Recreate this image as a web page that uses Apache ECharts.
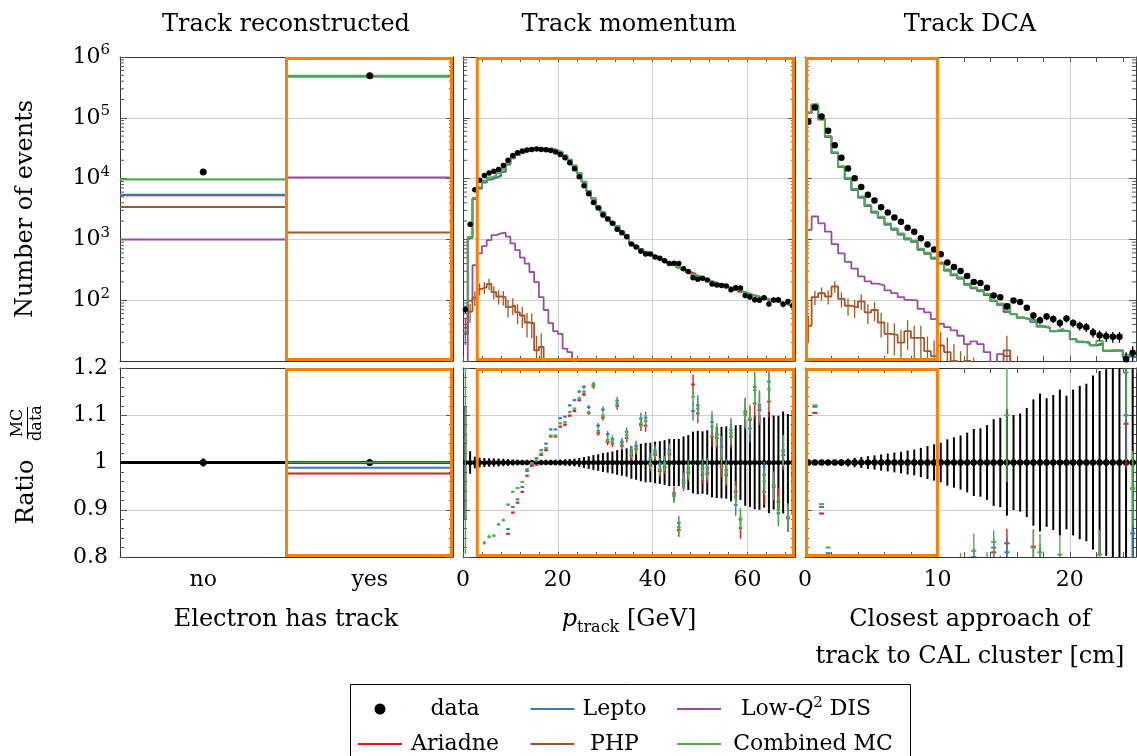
<!DOCTYPE html>
<html>
<head>
<meta charset="utf-8">
<title>Electron track selection</title>
<script src="https://cdn.jsdelivr.net/npm/echarts@6/dist/echarts.min.js"></script>
<style>
  html, body { margin: 0; padding: 0; background: #ffffff; }
  #chart { width: 1137px; height: 756px; }
</style>
</head>
<body>
<div id="chart"></div>
<script>
// ---------------------------------------------------------------------------
// Electron has track (one bin per category)
// ---------------------------------------------------------------------------
const trackCategories = ['no', 'yes'];
const trackData     = [12900, 490000];
const trackLepto    = [5400, 484600];
const trackAriadne  = [5300, 478700];
const trackLowQ2    = [1000, 10400];
const trackPHP      = [3400, 1300];
const trackCombined = [9700, 490000];

// ---------------------------------------------------------------------------
// Track momentum: 1 GeV bins, 0 - 70 GeV
// ---------------------------------------------------------------------------
const momentumBinWidth = 1;
const momentumData = [
  70, 1770, 6580, 9400, 11200, 12400, 13200, 14100, 16400, 20100,
  24000, 26600, 28400, 29500, 30200, 30600, 30200, 29900, 29100, 27300,
  25000, 22000, 18200, 14500, 10700, 7650, 5640, 4050, 3270, 2530,
  2170, 1840, 1470, 1290, 1110, 842, 748, 637, 574, 576,
  515, 491, 447, 402, 405, 400, 330, 296, 235, 222,
  230, 215, 185, 177, 175, 171, 149, 161, 159, 119,
  113, 102, 100, 110, 87, 101, 102, 86, 95, 81
];
// MC / data per bin
const momentumRatioCombined = [
  1.047, 0.62, 0.73, 0.77, 0.830, 0.843, 0.845, 0.869, 0.878, 0.911,
  0.938, 0.946, 0.959, 0.986, 0.999, 1.004, 1.019, 1.031, 1.057, 1.057,
  1.083, 1.085, 1.107, 1.114, 1.136, 1.150, 1.106, 1.163, 1.067, 1.099,
  1.048, 1.045, 1.125, 1.040, 1.058, 1.020, 1.030, 1.083, 1.088, 0.998,
  1.020, 0.986, 0.996, 1.021, 0.929, 0.863, 0.958, 0.982, 1.139, 1.114,
  0.982, 0.984, 1.076, 1.058, 1.009, 0.977, 1.062, 0.928, 0.879, 1.105,
  1.093, 1.153, 1.116, 0.960, 1.155, 0.950, 0.900, 1.026, 0.885, 0.988
];
const momentumRatioLepto = [
  0.40, 0.60, 0.71, 0.74, 0.78, 0.785, 0.79, 0.795, 0.798, 0.859,
  0.906, 0.922, 0.948, 0.982, 0.997, 1.009, 1.026, 1.040, 1.070, 1.070,
  1.094, 1.097, 1.121, 1.132, 1.150, 1.160, 1.117, 1.166, 1.078, 1.112,
  1.060, 1.050, 1.131, 1.044, 1.065, 1.025, 1.035, 1.093, 1.095, 1.008,
  1.025, 0.996, 1.000, 1.026, 0.930, 0.872, 0.963, 0.988, 1.109, 1.121,
  0.988, 0.989, 1.086, 1.060, 1.033, 0.984, 1.069, 0.910, 0.881, 1.100,
  1.072, 1.160, 1.121, 0.974, 1.171, 0.952, 0.893, 1.023, 0.882, 0.974
];
const momentumRatioAriadne = [
  0.40, 0.60, 0.70, 0.73, 0.77, 0.775, 0.78, 0.785, 0.788, 0.849,
  0.894, 0.915, 0.938, 0.972, 0.993, 0.995, 1.016, 1.026, 1.055, 1.055,
  1.076, 1.080, 1.099, 1.109, 1.132, 1.144, 1.105, 1.161, 1.062, 1.095,
  1.043, 1.040, 1.120, 1.035, 1.052, 1.015, 1.028, 1.079, 1.078, 0.994,
  1.016, 0.982, 0.990, 1.017, 0.935, 0.857, 0.956, 0.978, 1.165, 1.104,
  0.974, 0.977, 1.055, 1.052, 0.991, 0.973, 1.055, 0.938, 0.861, 1.108,
  1.090, 1.125, 1.111, 0.938, 1.129, 0.948, 0.917, 1.016, 0.882, 0.998
];
const momentumLowQ2 = [
  5, 98, 376, 587, 776, 975, 1180, 1257, 1290, 1107,
  859, 665, 503, 400, 291, 199, 112, 69, 42, 31,
  28, 16, 14, 10, 9, 0, 0, 0, 0, 0,
  0, 0, 0, 0, 0, 0, 0, 0, 0, 0,
  0, 0, 0, 0, 0, 0, 0, 0, 0, 0,
  0, 0, 0, 0, 0, 0, 0, 0, 0, 0,
  0, 0, 0, 0, 0, 0, 0, 0, 0, 0
];
const momentumPHP = [
  35, 65, 110, 154, 164, 186, 136, 115, 112, 77,
  82, 63, 56, 43, 42, 15, 17, 0, 0, 0,
  0, 0, 0, 0, 0, 0, 0, 0, 0, 0,
  0, 0, 0, 0, 0, 0, 0, 0, 0, 0,
  0, 0, 0, 0, 0, 0, 0, 0, 0, 0,
  0, 0, 0, 0, 0, 0, 0, 0, 0, 0,
  0, 0, 0, 0, 0, 0, 0, 0, 0, 0
];

// ---------------------------------------------------------------------------
// Track DCA: 0.5 cm bins, 0 - 25 cm
// ---------------------------------------------------------------------------
const dcaBinWidth = 0.5;
const dcaData = [
  85900, 148000, 105000, 61000, 35200, 22000, 14700, 10100, 7280, 5430,
  4380, 3390, 2770, 2290, 1960, 1560, 1340, 1040, 827, 682,
  571, 416, 352, 303, 250, 199, 191, 160, 119, 112,
  79, 99, 93, 75, 56, 47, 54, 49, 42, 50,
  42, 38, 36, 29.5, 26.6, 25.6, 25, 25, 10.7, 13.7
];
const dcaRatioCombined = [
  1.43, 1.121, 0.912, 0.820, 0.776, 0.73, 0.70, 0.67, 0.70, 0.68,
  0.66, 0.70, 0.66, 0.66, 0.64, 0.67, 0.71, 0.68, 0.73, 0.74,
  0.73, 0.77, 0.76, 0.78, 0.75, 0.813, 0.77, 0.79, 0.832, 0.78,
  1.10, 0.60, 0.56, 0.65, 0.82, 0.81, 0.66, 0.64, 0.805, 0.62,
  0.55, 0.55, 0.56, 0.62, 0.805, 0.58, 0.60, 0.60, 1.19, 0.945
];
const dcaRatioLepto = [
  1.41, 1.118, 0.906, 0.808, 0.755, 0.705, 0.675, 0.645, 0.675, 0.655,
  0.635, 0.675, 0.635, 0.635, 0.615, 0.645, 0.685, 0.655, 0.705, 0.715,
  0.705, 0.745, 0.735, 0.755, 0.725, 0.80, 0.745, 0.765, 0.82, 0.755,
  0.81, 0.59, 0.55, 0.64, 0.78, 0.79, 0.65, 0.63, 0.75, 0.61,
  0.54, 0.54, 0.55, 0.61, 0.70, 0.57, 0.59, 0.59, 1.10, 0.85
];
const dcaRatioAriadne = [
  1.40, 1.105, 0.892, 0.79, 0.745, 0.70, 0.67, 0.64, 0.67, 0.65,
  0.63, 0.67, 0.63, 0.63, 0.61, 0.64, 0.68, 0.65, 0.70, 0.71,
  0.70, 0.74, 0.73, 0.75, 0.72, 0.79, 0.74, 0.76, 0.81, 0.75,
  0.829, 0.60, 0.56, 0.65, 0.822, 0.78, 0.65, 0.64, 0.76, 0.62,
  0.55, 0.55, 0.56, 0.62, 0.74, 0.58, 0.60, 0.60, 1.082, 0.945
];
const dcaLowQ2 = [
  1430, 2380, 1840, 1340, 838, 587, 427, 331, 247, 204,
  187, 175, 145, 131, 112, 101, 99, 72, 63, 49,
  41, 36, 32, 26, 19, 21, 19, 14, 8, 13,
  12, 0, 0, 0, 0, 0, 0, 0, 0, 0,
  0, 0, 0, 0, 0, 0, 0, 0, 0, 0
];
const dcaPHP = [
  38, 112, 130, 115, 168, 105, 81, 76, 96, 63,
  69, 43, 28, 27, 20, 31, 24, 24, 14.5, 12,
  18, 14, 10, 7, 10, 5, 0, 0, 0, 0,
  15, 0, 0, 0, 0, 0, 0, 0, 0, 0,
  0, 0, 0, 0, 0, 0, 0, 0, 0, 0
];

// Event weights behind the MC statistical uncertainties
const MC_SIGNAL_WEIGHT = 0.09;
const PHP_WEIGHT = 8;

// ---------------------------------------------------------------------------
// Styling
// ---------------------------------------------------------------------------
const FONT = '"DejaVu Serif", "Liberation Serif", serif';
const LOWQ2 = 'Low-Q\u00b2 DIS';
const COL = {
  data: '#000000', lepto: '#377eb8', ariadne: '#e41a1c',
  lowq2: '#984ea3', php: '#a65628', combined: '#4daf4a', box: '#ff7f00'
};
const AXIS = '#333333';
const TICK = '#555555';
const GRIDLINE = '#cfcfcf';
const FLOOR = 0.01; // empty bins drop below the log axis

const grid = [
  { left: 120, top: 57,  width: 333, height: 304 },
  { left: 120, top: 368, width: 333, height: 189 },
  { left: 463, top: 57,  width: 332, height: 304 },
  { left: 463, top: 368, width: 332, height: 189 },
  { left: 805, top: 57,  width: 331, height: 304 },
  { left: 805, top: 368, width: 331, height: 189 }
];

const xAxis = [], yAxis = [];
const axisLine = { show: true, onZero: false, lineStyle: { color: AXIS, width: 1 } };
const labelFont = { fontFamily: FONT, fontSize: 22, color: '#000' };

function categoryX(g, withLabels) {
  const main = xAxis.push({
    type: 'category', gridIndex: g, data: trackCategories, position: 'bottom', boundaryGap: true,
    axisLine, axisTick: { show: false },
    axisLabel: Object.assign({ show: withLabels, margin: 12 }, labelFont),
    splitLine: { show: false }
  }) - 1;
  xAxis.push({
    type: 'category', gridIndex: g, data: trackCategories, position: 'top', boundaryGap: true,
    axisLine, axisTick: { show: false }, axisLabel: { show: false }, splitLine: { show: false }
  });
  return main;
}

function valueX(g, max, tickStep, labelStep, withLabels) {
  const tick = { show: true, inside: true, length: 5, lineStyle: { color: TICK, width: 1 } };
  const main = xAxis.push({
    type: 'value', gridIndex: g, min: 0, max, interval: tickStep, position: 'bottom',
    axisLine, axisTick: tick,
    axisLabel: Object.assign({
      show: withLabels, margin: 12, showMaxLabel: false,
      formatter: v => (Math.abs(v / labelStep - Math.round(v / labelStep)) < 1e-6 ? String(v) : '')
    }, labelFont),
    splitLine: { show: false }
  }) - 1;
  // top frame: ticks mirrored, grid lines at the labelled values
  xAxis.push({
    type: 'value', gridIndex: g, min: 0, max, interval: labelStep, position: 'top',
    axisLine, axisTick: tick,
    minorTick: { show: true, splitNumber: Math.round(labelStep / tickStep), length: 5, lineStyle: { color: TICK, width: 1 } },
    axisLabel: { show: false },
    splitLine: { show: true, lineStyle: { color: GRIDLINE, width: 1 } }
  });
  return main;
}

function logY(g, withLabels) {
  const tick = { show: true, inside: true, length: 7, lineStyle: { color: TICK, width: 1 } };
  const main = yAxis.push({
    type: 'log', logBase: 10, gridIndex: g, min: 10, max: 1e6, splitNumber: 5, position: 'left',
    axisLine, axisTick: tick,
    axisLabel: {
      show: withLabels, margin: 10, showMinLabel: false,
      formatter: v => '{b|10}{s|' + Math.round(Math.log10(v)) + '}',
      rich: {
        b: { fontFamily: FONT, fontSize: 22, color: '#000', lineHeight: 28 },
        s: { fontFamily: FONT, fontSize: 15, color: '#000', verticalAlign: 'top', lineHeight: 15 }
      }
    },
    splitLine: { show: true, lineStyle: { color: GRIDLINE, width: 1 } }
  }) - 1;
  yAxis.push({
    type: 'log', logBase: 10, gridIndex: g, min: 10, max: 1e6, splitNumber: 5, position: 'right',
    axisLine, axisTick: tick, axisLabel: { show: false }, splitLine: { show: false }
  });
  return main;
}

function ratioY(g, withLabels) {
  const tick = { show: true, inside: true, length: 7, lineStyle: { color: TICK, width: 1 } };
  const minor = { show: true, splitNumber: 5, length: 4, lineStyle: { color: TICK, width: 1 } };
  const main = yAxis.push({
    type: 'value', gridIndex: g, min: 0.8, max: 1.2, interval: 0.1, position: 'left',
    axisLine, axisTick: tick, minorTick: minor,
    axisLabel: Object.assign({ show: withLabels, margin: 12, formatter: v => String(Math.round(v * 10) / 10) }, labelFont),
    splitLine: { show: true, lineStyle: { color: GRIDLINE, width: 1 } }
  }) - 1;
  yAxis.push({
    type: 'value', gridIndex: g, min: 0.8, max: 1.2, interval: 0.1, position: 'right',
    axisLine, axisTick: tick, minorTick: minor, axisLabel: { show: false }, splitLine: { show: false }
  });
  return main;
}

const ax = [
  { x: categoryX(0, false), y: logY(0, true) },
  { x: categoryX(1, true), y: ratioY(1, true) },
  { x: valueX(2, 70, 4, 20, false), y: logY(2, false) },
  { x: valueX(3, 70, 4, 20, true), y: ratioY(3, false) },
  { x: valueX(4, 25, 2, 10, false), y: logY(4, false) },
  { x: valueX(5, 25, 2, 10, true), y: ratioY(5, false) }
];

// ---------------------------------------------------------------------------
// Series builders
// ---------------------------------------------------------------------------
function seg(p, q, color, lw) {
  return { type: 'line', shape: { x1: p[0], y1: p[1], x2: q[0], y2: q[1] }, style: { stroke: color, lineWidth: lw } };
}

// step histogram drawn from the bin contents
function stepLine(name, color, g, values, width) {
  const pts = values.map((v, i) => [i * width, Math.max(v, FLOOR)]);
  pts.push([values.length * width, Math.max(values[values.length - 1], FLOOR)]);
  return {
    type: 'line', name, xAxisIndex: ax[g].x, yAxisIndex: ax[g].y, data: pts,
    step: 'end', symbol: 'none', showSymbol: false, lineStyle: { color, width: 1.8 }, itemStyle: { color },
    silent: true, clip: true, z: 2
  };
}

function dataScatter(g, points, size) {
  return {
    type: 'scatter', name: 'data', xAxisIndex: ax[g].x, yAxisIndex: ax[g].y, data: points,
    symbol: 'circle', symbolSize: size, itemStyle: { color: COL.data, opacity: 1 }, silent: true, z: 6
  };
}

// vertical uncertainty bars; items are [x, value, halfWidth]
function verticalErrors(name, color, g, items, lw, z) {
  return {
    type: 'custom', name, xAxisIndex: ax[g].x, yAxisIndex: ax[g].y, clip: true, silent: true, z,
    data: items,
    renderItem: (params, api) => {
      const x = api.value(0), v = api.value(1), e = api.value(2);
      if (!(v > 0) || !(e > 0)) return null;
      return seg(api.coord([x, v + e]), api.coord([x, Math.max(v - e, FLOOR)]), color, lw);
    }
  };
}

// short minor ticks at 2..9 x 10^k on both frame sides of a log panel
const logMinorTickValues = [];
for (let k = 1; k < 6; k++) for (let m = 2; m < 10; m++) logMinorTickValues.push(m * Math.pow(10, k));
function logMinorTicks(g) {
  return {
    type: 'custom', xAxisIndex: ax[g].x, yAxisIndex: ax[g].y, clip: false, silent: true, z: 1,
    data: logMinorTickValues.map(v => [0, v]),
    renderItem: (params, api) => {
      const cs = params.coordSys;
      const y = api.coord([api.value(0), api.value(1)])[1];
      return { type: 'group', children: [
        seg([cs.x, y], [cs.x + 4, y], TICK, 1),
        seg([cs.x + cs.width - 4, y], [cs.x + cs.width, y], TICK, 1)
      ] };
    }
  };
}

// data / data = 1 with the Poisson uncertainty of each count
function ratioData(g, counts, width, radius) {
  return {
    type: 'custom', name: 'data', xAxisIndex: ax[g].x, yAxisIndex: ax[g].y, clip: true, silent: true, z: 2,
    data: counts.map((n, i) => [i * width, (i + 1) * width, 1, n > 0 ? 1 / Math.sqrt(n) : 0]),
    renderItem: (params, api) => {
      const lo = api.value(0), hi = api.value(1), r = api.value(2), e = api.value(3), mid = (lo + hi) / 2;
      const c = api.coord([mid, r]);
      return { type: 'group', children: [
        seg(api.coord([lo, r]), api.coord([hi, r]), COL.data, 2.5),
        seg(api.coord([mid, r + e]), api.coord([mid, r - e]), COL.data, 2),
        { type: 'circle', shape: { cx: c[0], cy: c[1], r: radius }, style: { fill: COL.data } }
      ] };
    }
  };
}

// MC / data markers: short dash across the bin and its uncertainty
function ratioMC(name, color, g, mc, counts, width, relErr) {
  return {
    type: 'custom', name, xAxisIndex: ax[g].x, yAxisIndex: ax[g].y, clip: true, silent: true, z: 3,
    data: mc.map((m, i) => {
      const r = m / counts[i];
      return [i * width, (i + 1) * width, r, r * relErr(m, i)];
    }),
    renderItem: (params, api) => {
      const lo = api.value(0), hi = api.value(1), r = api.value(2), e = api.value(3);
      const inset = (hi - lo) * 0.12, mid = (lo + hi) / 2;
      return { type: 'group', children: [
        seg(api.coord([lo + inset, r]), api.coord([hi - inset, r]), color, 2),
        seg(api.coord([mid, r + e]), api.coord([mid, r - e]), color, 1.4)
      ] };
    }
  };
}

function histogramPanel(gTop, gRatio, width, counts, rLepto, rAriadne, rCombined, lowQ2, php, dotSize, dotRadius) {
  const lepto = counts.map((d, i) => d * rLepto[i]);
  const ariadne = counts.map((d, i) => d * rAriadne[i]);
  const combined = counts.map((d, i) => d * rCombined[i]);
  const centre = i => (i + 0.5) * width;
  const signalErr = m => Math.sqrt(MC_SIGNAL_WEIGHT * m) / m;
  const combinedErr = (m, i) =>
    Math.sqrt(MC_SIGNAL_WEIGHT * Math.max(m - php[i] - lowQ2[i], 0) + PHP_WEIGHT * php[i]) / m;
  return [
    stepLine(LOWQ2, COL.lowq2, gTop, lowQ2, width),
    stepLine('PHP', COL.php, gTop, php, width),
    stepLine('Ariadne', COL.ariadne, gTop, ariadne, width),
    stepLine('Lepto', COL.lepto, gTop, lepto, width),
    stepLine('Combined MC', COL.combined, gTop, combined, width),
    dataScatter(gTop, counts.map((v, i) => [centre(i), v]), dotSize),
    verticalErrors('PHP', COL.php, gTop, php.map((v, i) => [centre(i), v, Math.sqrt(PHP_WEIGHT * v)]), 1.3, 3),
    verticalErrors('data', COL.data, gTop, counts.map((v, i) => [centre(i), v, Math.sqrt(v)]), 1.3, 5),
    logMinorTicks(gTop),
    ratioData(gRatio, counts, width, dotRadius),
    ratioMC('Ariadne', COL.ariadne, gRatio, ariadne, counts, width, signalErr),
    ratioMC('Lepto', COL.lepto, gRatio, lepto, counts, width, signalErr),
    ratioMC('Combined MC', COL.combined, gRatio, combined, counts, width, combinedErr)
  ];
}

// ---- category panel helpers ----
function bandHalf(api, yRef) {
  return Math.abs(api.coord([1, yRef])[0] - api.coord([0, yRef])[0]) / 2;
}
function categoryLevels(name, color, g, values, lw, z) {
  return {
    type: 'custom', name, xAxisIndex: ax[g].x, yAxisIndex: ax[g].y, clip: true, silent: true, z,
    data: values.map((v, i) => [i, v]),
    renderItem: (params, api) => {
      const i = api.value(0), v = api.value(1);
      const c = api.coord([i, v]), h = bandHalf(api, v);
      return seg([c[0] - h, c[1]], [c[0] + h, c[1]], color, lw);
    }
  };
}
function categoryRatioData(g, counts) {
  return {
    type: 'custom', name: 'data', xAxisIndex: ax[g].x, yAxisIndex: ax[g].y, clip: true, silent: true, z: 2,
    data: counts.map((n, i) => [i, 1, 1 / Math.sqrt(n)]),
    renderItem: (params, api) => {
      const i = api.value(0), r = api.value(1), e = api.value(2);
      const c = api.coord([i, r]), h = bandHalf(api, r);
      return { type: 'group', children: [
        seg([c[0] - h, c[1]], [c[0] + h, c[1]], COL.data, 3),
        seg(api.coord([i, r + e]), api.coord([i, r - e]), COL.data, 2),
        { type: 'circle', shape: { cx: c[0], cy: c[1], r: 3.5 }, style: { fill: COL.data } }
      ] };
    }
  };
}

// orange frame around the selected range; items are [from, to, yRef, isBand]
function selectionBox(g, from, to, yRef, isBand) {
  return {
    type: 'custom', xAxisIndex: ax[g].x, yAxisIndex: ax[g].y, clip: false, silent: true, z: 20,
    data: [[from, to, yRef, isBand ? 1 : 0]],
    renderItem: (params, api) => {
      const cs = params.coordSys, y = api.value(2);
      let a = api.coord([api.value(0), y])[0], b = api.coord([api.value(1), y])[0];
      if (api.value(3)) { const h = bandHalf(api, y); a -= h; b += h; }
      a = Math.max(a, cs.x + 1.5);
      b = Math.min(b, cs.x + cs.width - 1.5);
      return { type: 'rect', shape: { x: a, y: cs.y + 1.5, width: b - a, height: cs.height - 3 },
        style: { fill: 'none', stroke: COL.box, lineWidth: 3 } };
    }
  };
}

// ---------------------------------------------------------------------------
// Assemble series
// ---------------------------------------------------------------------------
const series = [].concat(
  histogramPanel(2, 3, momentumBinWidth, momentumData, momentumRatioLepto, momentumRatioAriadne,
    momentumRatioCombined, momentumLowQ2, momentumPHP, 5.5, 2.6),
  histogramPanel(4, 5, dcaBinWidth, dcaData, dcaRatioLepto, dcaRatioAriadne,
    dcaRatioCombined, dcaLowQ2, dcaPHP, 6.5, 3.2),
  [
    categoryLevels(LOWQ2, COL.lowq2, 0, trackLowQ2, 2, 2),
    categoryLevels('PHP', COL.php, 0, trackPHP, 2, 2),
    categoryLevels('Ariadne', COL.ariadne, 0, trackAriadne, 2, 2),
    categoryLevels('Lepto', COL.lepto, 0, trackLepto, 2, 2),
    categoryLevels('Combined MC', COL.combined, 0, trackCombined, 2, 2),
    dataScatter(0, trackData.map((v, i) => [i, v]), 7),
    verticalErrors('data', COL.data, 0, trackData.map((v, i) => [i, v, Math.sqrt(v)]), 1.3, 5),
    logMinorTicks(0),
    categoryRatioData(1, trackData),
    categoryLevels('Ariadne', COL.ariadne, 1, trackAriadne.map((v, i) => v / trackData[i]), 2, 3),
    categoryLevels('Lepto', COL.lepto, 1, trackLepto.map((v, i) => v / trackData[i]), 2, 3),
    categoryLevels('Combined MC', COL.combined, 1, trackCombined.map((v, i) => v / trackData[i]), 2, 3),
    selectionBox(0, 1, 1, 100, true),
    selectionBox(1, 1, 1, 1, true),
    selectionBox(2, 3, 70, 100, false),
    selectionBox(3, 3, 70, 1, false),
    selectionBox(4, 0, 10, 100, false),
    selectionBox(5, 0, 10, 1, false)
  ]
);

// ---------------------------------------------------------------------------
// Legend: two rows, three aligned columns
// ---------------------------------------------------------------------------
// Icons span the full 44 x 11 box; hair-width strips pin the box edges.
const EDGES = 'M0,0L0.01,0L0.01,11L0,11Z M43.99,0L44,0L44,11L43.99,11Z ';
const LINE_ICON = 'path://' + EDGES + 'M0,4.6L44,4.6L44,6.4L0,6.4Z';
const DOT_ICON = 'path://' + EDGES + 'M27.5,5.5A5.5,5.5,0,1,1,16.5,5.5A5.5,5.5,0,1,1,27.5,5.5Z';
const legendText = { fontFamily: FONT, fontSize: 22, color: '#000', lineHeight: 26 };
const legendRich = {
  c1: Object.assign({ width: 96, align: 'center' }, legendText),
  c2: Object.assign({ width: 70, align: 'center' }, legendText),
  c3: Object.assign({ width: 174, align: 'center' }, legendText),
  lw: Object.assign({ padding: [0, 0, 0, 15] }, legendText),
  q: Object.assign({ fontStyle: 'italic' }, legendText),
  sp: { fontFamily: FONT, fontSize: 15, color: '#000', verticalAlign: 'top', lineHeight: 15 },
  t: Object.assign({}, legendText)
};
const legendColumn = { 'data': 'c1', 'Ariadne': 'c1', 'Lepto': 'c2', 'PHP': 'c2', 'Combined MC': 'c3' };
function legendRow(items, top) {
  return {
    show: true, orient: 'horizontal', left: 358, top, padding: 0,
    itemGap: 27.5, itemWidth: 44, itemHeight: 11,
    data: items,
    textStyle: Object.assign({ rich: legendRich }, legendText),
    formatter: name => name === LOWQ2
      ? '{lw|Low-}{q|Q}{sp|2}{t| DIS}'
      : '{' + legendColumn[name] + '|' + name + '}'
  };
}
const lineItem = name => ({ name, icon: LINE_ICON });

// ---------------------------------------------------------------------------
// Titles and axis names
// ---------------------------------------------------------------------------
function label(text, x, y, size) {
  return { type: 'text', x, y, silent: true,
    style: { text, font: size + 'px ' + FONT, fill: '#000', align: 'center', verticalAlign: 'middle',
      textAlign: 'center', textVerticalAlign: 'middle' } };
}

const graphic = [
  label('Track reconstructed', 286, 25, 24),
  label('Track momentum', 629, 25, 24),
  label('Track DCA', 970, 25, 24),
  label('Electron has track', 286, 620, 24),
  {
    type: 'text', x: 629, y: 620, silent: true,
    style: {
      text: '{i|p}{sub|track}{r| [GeV]}',
      align: 'center', verticalAlign: 'middle', textAlign: 'center', textVerticalAlign: 'middle',
      fill: '#000', font: '24px ' + FONT,
      rich: {
        i: { fontFamily: FONT, fontSize: 24, fontStyle: 'italic', lineHeight: 32, fill: '#000' },
        sub: { fontFamily: FONT, fontSize: 16, verticalAlign: 'bottom', lineHeight: 16, fill: '#000' },
        r: { fontFamily: FONT, fontSize: 24, lineHeight: 32, fill: '#000' }
      }
    }
  },
  label('Closest approach of', 970, 620, 24),
  label('track to CAL cluster [cm]', 970, 657, 24),
  {
    type: 'group', x: 26, y: 209, rotation: Math.PI / 2, silent: true,
    children: [label('Number of events', 0, 0, 24)]
  },
  {
    type: 'group', x: 27, y: 465, rotation: Math.PI / 2, silent: true,
    children: [
      label('Ratio', -27, 0, 24),
      { type: 'text', x: 42, y: -1, style: { text: 'MC', font: '16px ' + FONT, fill: '#000',
        align: 'center', verticalAlign: 'bottom', textAlign: 'center', textVerticalAlign: 'bottom' } },
      { type: 'line', shape: { x1: 26, y1: 0.5, x2: 58, y2: 0.5 }, style: { stroke: '#000', lineWidth: 1 } },
      { type: 'text', x: 42, y: 2, style: { text: 'data', font: '16px ' + FONT, fill: '#000',
        align: 'center', verticalAlign: 'top', textAlign: 'center', textVerticalAlign: 'top' } }
    ]
  },
  { type: 'rect', silent: true, shape: { x: 350.5, y: 684.5, width: 560, height: 90 },
    style: { fill: 'none', stroke: '#000', lineWidth: 1 } }
];

const chart = echarts.init(document.getElementById('chart'), null, { renderer: 'canvas' });
chart.setOption({
  animation: false,
  backgroundColor: '#ffffff',
  textStyle: { fontFamily: FONT },
  grid,
  xAxis,
  yAxis,
  legend: [
    legendRow([{ name: 'data', icon: DOT_ICON, itemStyle: { opacity: 1 } }, lineItem('Lepto'), lineItem(LOWQ2)], 696),
    legendRow([lineItem('Ariadne'), lineItem('PHP'), lineItem('Combined MC')], 731)
  ],
  graphic,
  series
});
</script>
</body>
</html>
